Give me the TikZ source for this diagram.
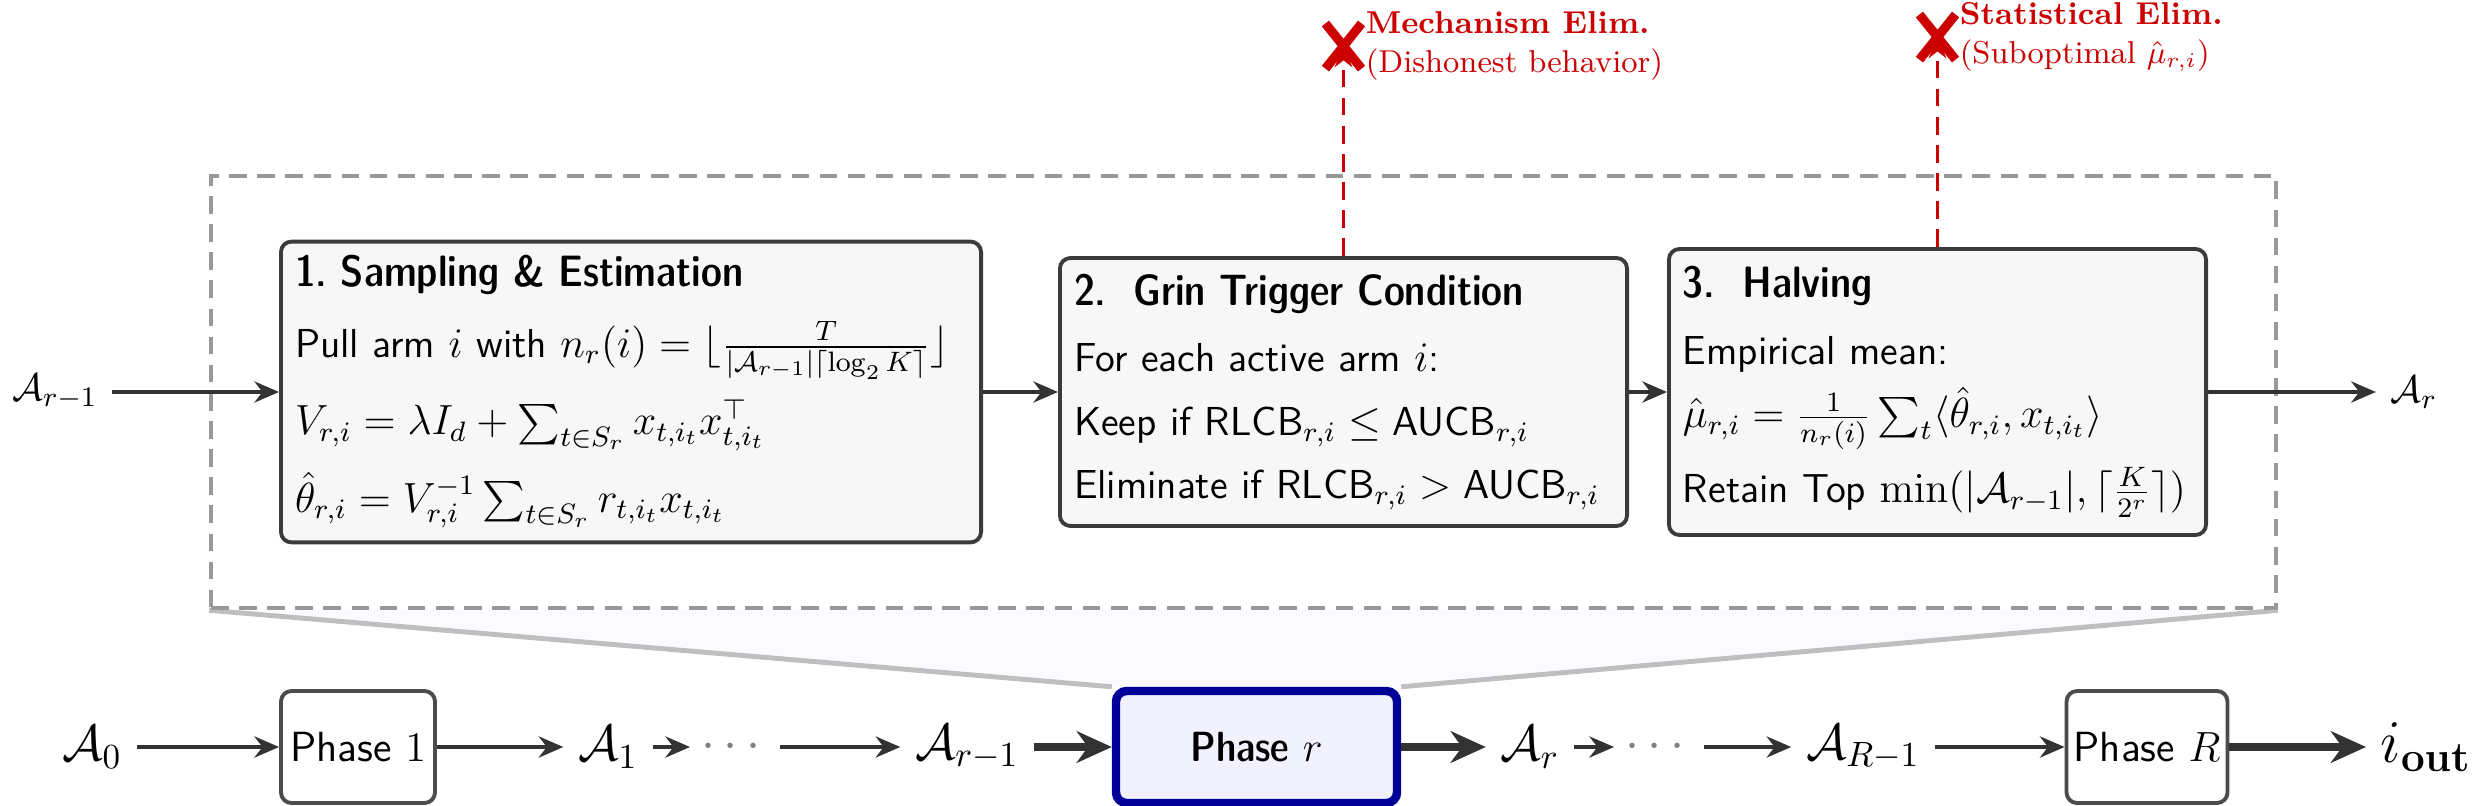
\documentclass[tikz,border=0pt]{standalone}
\usepackage{amsmath,amssymb}
\usetikzlibrary{positioning,arrows.meta,calc,fit,backgrounds,shapes.misc}
\newcommand{\steptitle}[1]{{\fontsize{12.5}{15}\fontseries{sbc}\selectfont #1}}
\tikzset{
  stagebox/.style={rectangle,draw=black!77,fill=black!3,line width=1.1pt,rounded corners=3pt,
    align=left,inner xsep=4pt,inner ysep=4pt,font=\sffamily\fontsize{11.5}{14}\selectfont},
  phasebox/.style={rectangle,draw=black!70,fill=white,line width=1.1pt,rounded corners=3pt,
    minimum width=1.54cm,minimum height=1.12cm,inner sep=2pt,font=\sffamily\large},
  curphase/.style={phasebox,draw=blue!60!black,fill=blue!5,line width=2.4pt,
    minimum width=2.81cm,font=\sffamily\fontseries{sbc}\large},
  setlbl/.style={inner sep=4pt,font=\Large},
  toplbl/.style={inner sep=4pt,font=\fontsize{11}{13}\selectfont},
  dotlbl/.style={inner sep=3pt,text=black!50,font=\Large},
  zoomframe/.style={draw=black!40,dash pattern=on 5pt off 3pt,line width=1.1pt},
  flow/.style={-{Stealth[length=7pt,width=6pt]},line width=1.1pt,draw=black!80},
  bigflow/.style={-{Stealth[length=10pt,width=9pt]},line width=2.2pt,draw=black!80},
  elimline/.style={-{Stealth[length=6pt,width=5pt]},dash pattern=on 5pt off 3pt,line width=1.1pt,draw=red!80!black},
  xmark/.style={cross out,draw=red!80!black,line width=2.6pt,minimum width=0.27cm,minimum height=0.36cm,inner sep=0pt},
  elimlbl/.style={text=red!80!black,font=\small,align=left,inner sep=1pt},
}

\begin{document}
\begin{tikzpicture}
  \useasboundingbox (0,0) rectangle (24.78,8.05);
  % one phase, zoomed in
  \node[stagebox,text width=6.72cm,minimum height=3cm] (samp) at (6.31,4.13) {%
    \steptitle{1.~Sampling \& Estimation}\\[6pt]
    Pull arm $i$ with $n_r(i)=\lfloor\frac{T}{|\mathcal{A}_{r-1}|\lceil\log_2 K\rceil}\rfloor$\\[5pt]
    $V_{r,i}=\lambda I_d+\sum_{t\in S_r}x_{t,i_t}x_{t,i_t}^{\top}$\\[5pt]
    $\hat{\theta}_{r,i}=V_{r,i}^{-1}\sum_{t\in S_r}r_{t,i_t}x_{t,i_t}$};
  \node[stagebox,text width=5.39cm,minimum height=2.68cm,right=0.75cm of samp] (grin) {%
    \steptitle{2.~~Grin Trigger Condition}\\[5pt]
    For each active arm $i$:\\[4pt]
    Keep if $\text{RLCB}_{r,i}\le\text{AUCB}_{r,i}$\\[4pt]
    Eliminate if $\text{RLCB}_{r,i}>\text{AUCB}_{r,i}$};
  \node[stagebox,text width=5.09cm,minimum height=2.86cm,right=0.38cm of grin] (halv) {%
    \steptitle{3.~~Halving}\\[5pt]
    Empirical mean:\\[4pt]
    $\hat{\mu}_{r,i}=\frac{1}{n_r(i)}\sum_t\langle\hat{\theta}_{r,i},x_{t,i_t}\rangle$\\[4pt]
    Retain Top $\min(|\mathcal{A}_{r-1}|,\lceil\frac{K}{2^r}\rceil)$};
  \node[zoomframe,fit=(samp)(grin)(halv),inner xsep=0.68cm,inner ysep=0.64cm] (frm) {};
  \node[toplbl] (ain) at (0.55,4.13) {$\mathcal{A}_{r-1}$};
  \node[toplbl] (aout) at (24.14,4.13) {$\mathcal{A}_r$};
  \draw[flow] (ain) -- (samp);
  \draw[flow] (samp) -- (grin);
  \draw[flow] (grin) -- (halv);
  \draw[flow] (halv) -- (aout);
  % elimination exits
  \node[xmark] (xmech) at ($(grin.north)+(0,2.1)$) {};
  \node[xmark] (xstat) at ($(halv.north)+(0,2.1)$) {};
  \draw[elimline] (grin) -- (xmech.center);
  \draw[elimline] (halv) -- (xstat.center);
  \node[elimlbl,anchor=west] (mechlbl) at (xmech.east) {\textbf{Mechanism Elim.}\\(Dishonest behavior)};
  \node[elimlbl,anchor=west] (statlbl) at (xstat.east) {\textbf{Statistical Elim.}\\(Suboptimal $\hat{\mu}_{r,i}$)};
  % all phases
  \node[setlbl] (a0) at (0.92,0.58) {$\mathcal{A}_0$};
  \node[phasebox] (ph1) at (3.58,0.58) {Phase $1$};
  \node[setlbl] (a1) at (6.08,0.58) {$\mathcal{A}_1$};
  \node[dotlbl] (dt1) at (7.35,0.58) {$\cdots$};
  \node[setlbl] (arm) at (9.67,0.58) {$\mathcal{A}_{r-1}$};
  \node[curphase] (phr) at (12.565,0.58) {Phase $r$};
  \node[setlbl] (ar) at (15.30,0.58) {$\mathcal{A}_r$};
  \node[dotlbl] (dt2) at (16.59,0.58) {$\cdots$};
  \node[setlbl] (aRm) at (18.63,0.58) {$\mathcal{A}_{R-1}$};
  \node[phasebox] (phR) at (21.47,0.58) {Phase $R$};
  \node[setlbl,font=\LARGE] (iout) at (24.26,0.58) {$i_{\mathbf{out}}$};
  \draw[flow] (a0) -- (ph1);
  \draw[flow] (ph1) -- (a1);
  \draw[flow] (a1) -- (dt1);
  \draw[flow] (dt1) -- (arm);
  \draw[bigflow] (arm) -- (phr);
  \draw[bigflow] (phr) -- (ar);
  \draw[flow] (ar) -- (dt2);
  \draw[flow] (dt2) -- (aRm);
  \draw[flow] (aRm) -- (phR);
  \draw[bigflow] (phR) -- (iout);
  \begin{scope}[on background layer]
    \fill[blue!2] (frm.south west) -- (phr.north west) -- (phr.north east) -- (frm.south east) -- cycle;
    \draw[black!25,line width=1.4pt] (frm.south west) -- (phr.north west) (frm.south east) -- (phr.north east);
  \end{scope}
\end{tikzpicture}
\end{document}
